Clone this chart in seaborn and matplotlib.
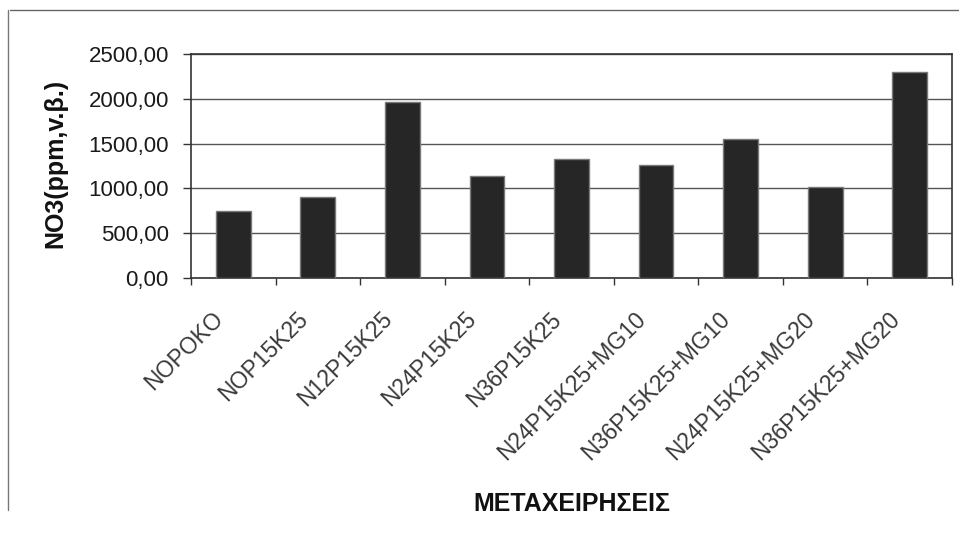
import matplotlib
matplotlib.use("Agg")
import matplotlib.pyplot as plt
import matplotlib.ticker as mticker
import matplotlib.transforms as mtransforms
from matplotlib.lines import Line2D
import seaborn as sns
import pandas as pd
import numpy as np

treatments = ["NOPOKO", "NOP15K25", "N12P15K25", "N24P15K25", "N36P15K25",
              "N24P15K25+MG10", "N36P15K25+MG10", "N24P15K25+MG20", "N36P15K25+MG20"]
no3_values = [745, 905, 1965, 1133, 1330, 1256, 1556, 1018, 2299]
y_ticks = [0, 500, 1000, 1500, 2000, 2500]

df = pd.DataFrame({"treatment": treatments, "no3": no3_values})

sns.set_theme(style="white")
plt.rcParams["font.family"] = ["Liberation Sans", "DejaVu Sans"]

fig = plt.figure(figsize=(9.59, 5.42), dpi=100)
ax = fig.add_axes([191 / 959, 1 - 278 / 542, (952 - 191) / 959, (278 - 54) / 542])

sns.barplot(data=df, x="treatment", y="no3", ax=ax, color="#262626",
            width=0.41, saturation=1, edgecolor="#7a7a7a", linewidth=1.0, zorder=3)

ax.set_ylim(0, 2500)
ax.set_xlim(-0.5, len(treatments) - 0.5)
ax.set_yticks(y_ticks)
ax.yaxis.set_major_formatter(mticker.FuncFormatter(lambda v, p: f"{v:.2f}".replace(".", ",")))
ax.grid(axis="y", color="#555555", linewidth=1.0, zorder=0)

for side in ["top", "right", "left", "bottom"]:
    ax.spines[side].set_visible(True)
    ax.spines[side].set_color("#333333")
    ax.spines[side].set_linewidth(1.2)

# ticks between categories along the x axis
ax.set_xticks(np.arange(len(treatments)))
ax.set_xticks(np.arange(-0.5, len(treatments) + 0.5, 1), minor=True)
ax.tick_params(axis="x", which="major", length=0, pad=4)
ax.tick_params(axis="x", which="minor", length=5, width=1, color="#333333", direction="out", bottom=True)
ax.tick_params(axis="y", length=6, width=1, color="#333333", direction="out", left=True, pad=10)

ax.set_xticklabels(treatments, rotation=45, ha="right", va="top",
                   rotation_mode="anchor", fontsize=16.5, color="#3a3a3a")
shift = mtransforms.ScaledTranslation(-22 / 100, -24 / 100, fig.dpi_scale_trans)
for lbl in ax.get_xticklabels():
    lbl.set_transform(lbl.get_transform() + shift)
for lbl in ax.get_yticklabels():
    lbl.set_fontsize(16)
    lbl.set_color("#1a1a1a")

ax.set_xlabel("ΜΕΤΑΧΕΙΡΗΣΕΙΣ", fontsize=18, fontweight="bold", color="#111111")
ax.set_ylabel("NO3(ppm,v.β.)", fontsize=18, fontweight="bold", color="#111111")
ax.xaxis.set_label_coords(0.5, -(504 - 278) / (278 - 54))
ax.yaxis.set_label_coords(-(191 - 55) / (952 - 191), 1 - (163 - 54) / (278 - 54))
ax.xaxis.label.set_va("center")
ax.yaxis.label.set_va("center")

# outer frame of the chart
fig.add_artist(Line2D([10 / 959, 1.0], [1 - 10 / 542, 1 - 10 / 542],
                      transform=fig.transFigure, color="#666666", linewidth=1.0))
fig.add_artist(Line2D([8 / 959, 8 / 959], [1 - 10 / 542, 1 - 510 / 542],
                      transform=fig.transFigure, color="#777777", linewidth=1.0))

fig.savefig("out.png", dpi=100, facecolor="white")
